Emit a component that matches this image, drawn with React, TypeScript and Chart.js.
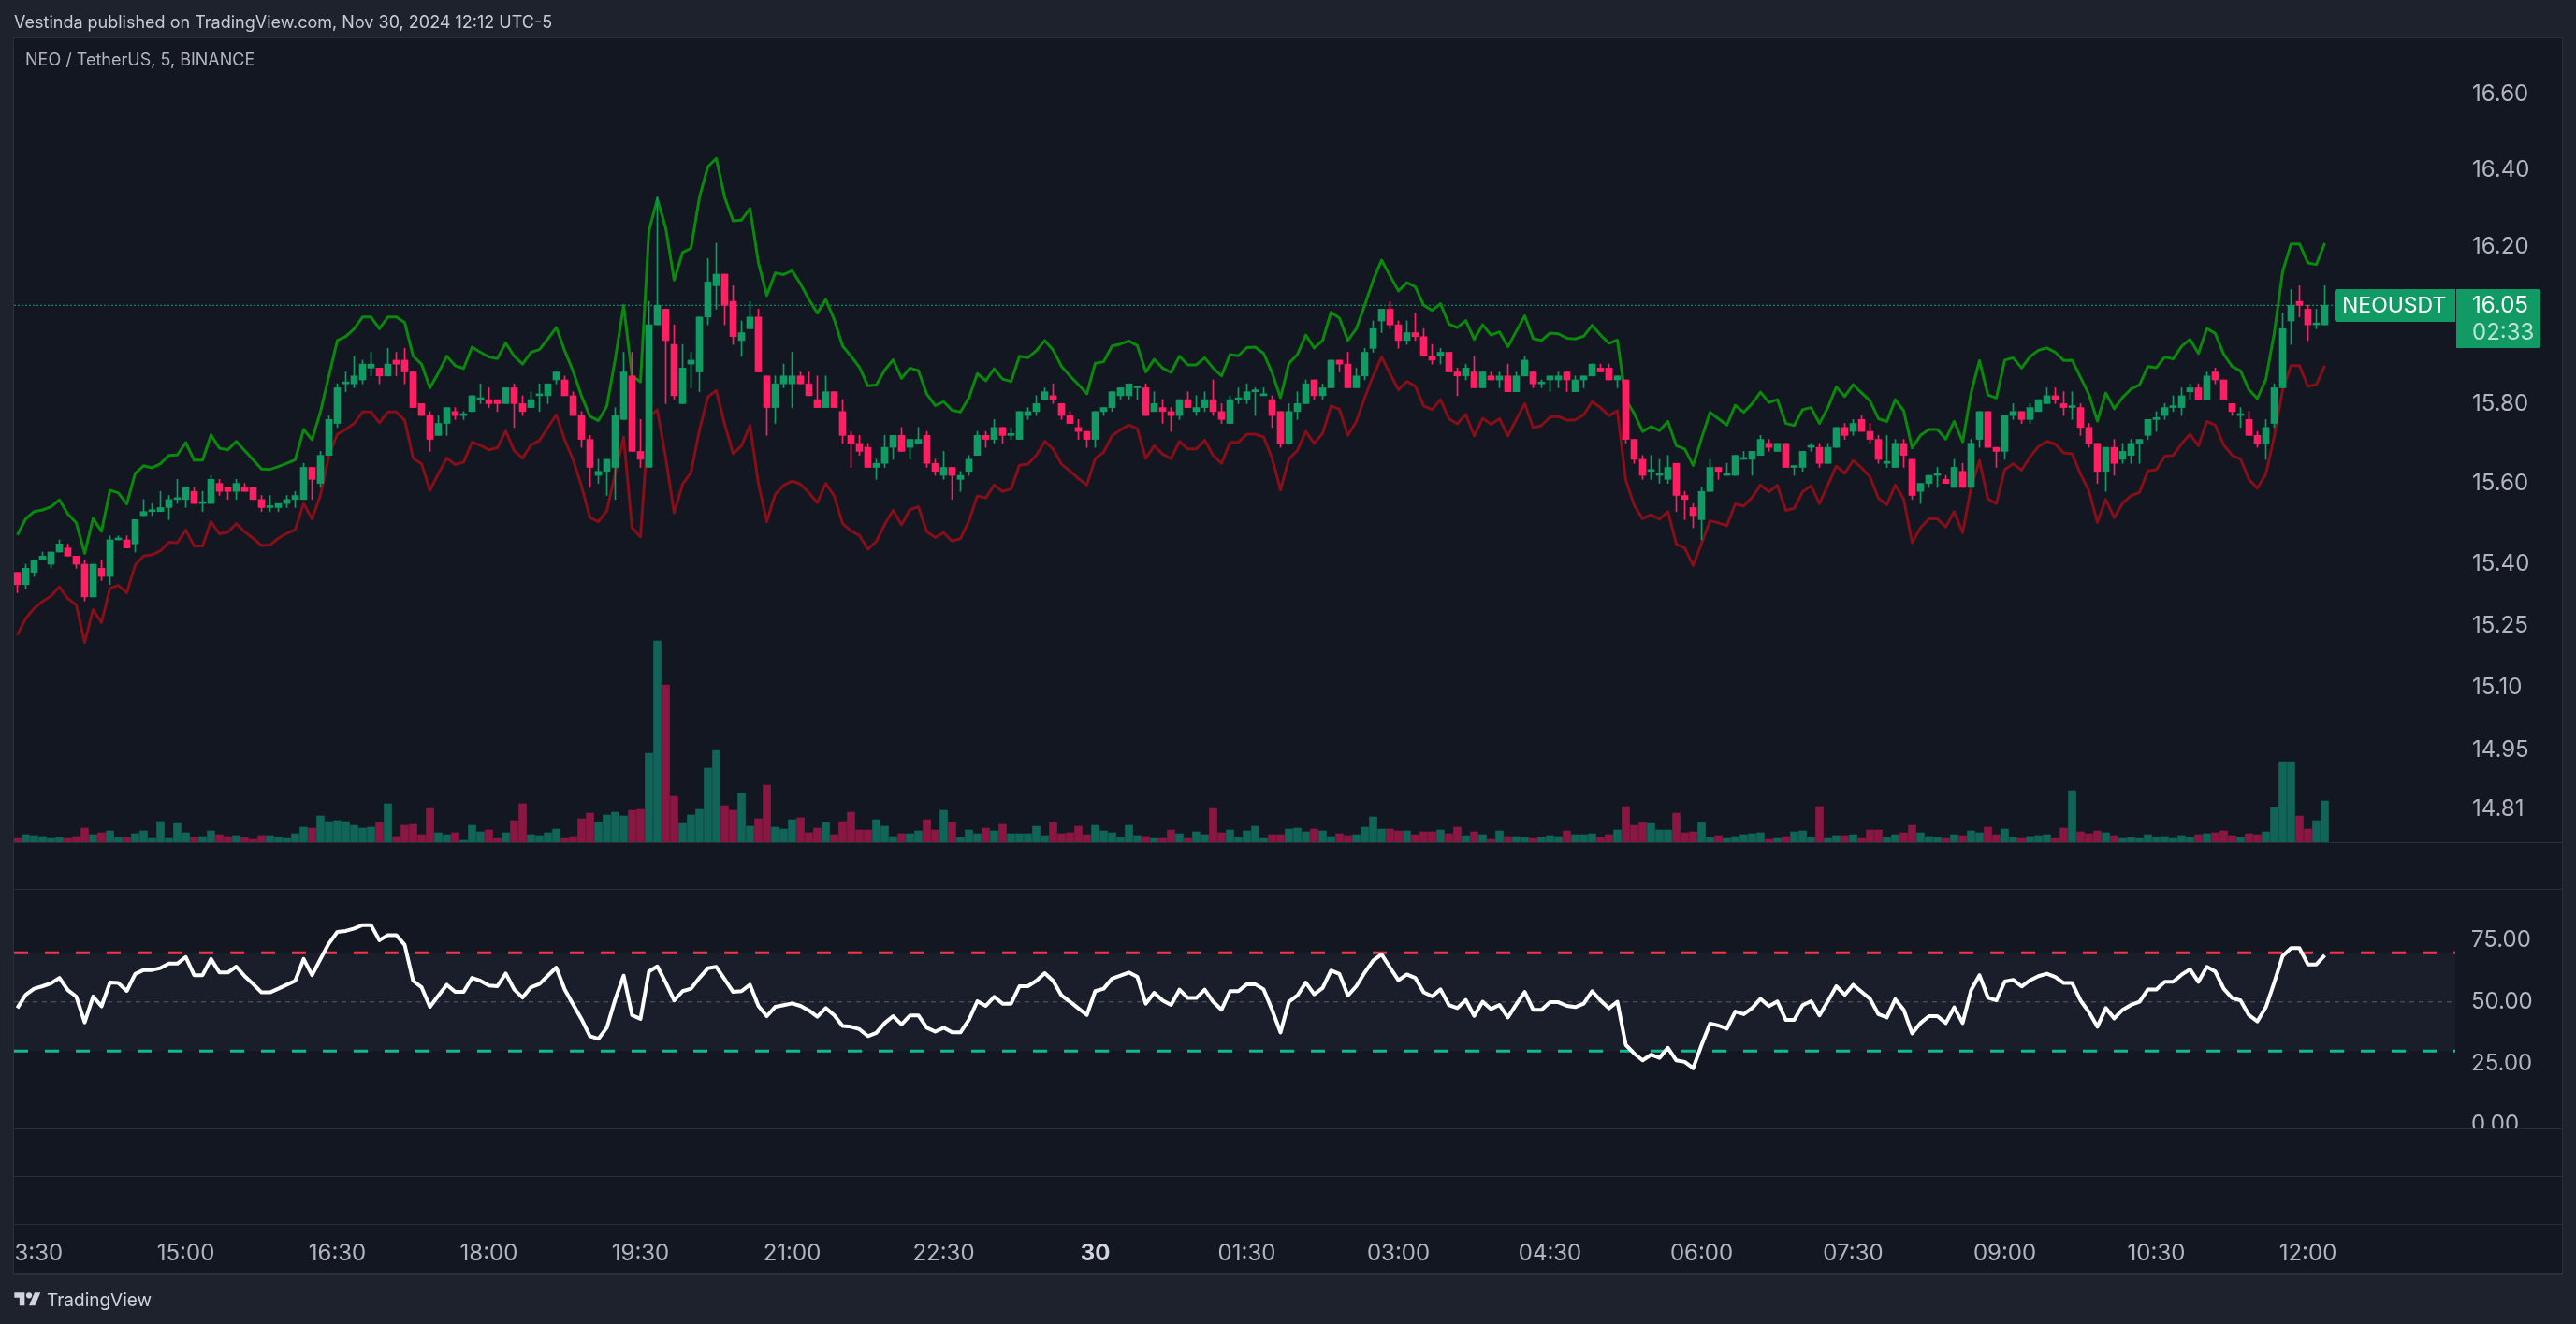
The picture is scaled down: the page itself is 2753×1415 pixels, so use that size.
import { useEffect, useRef } from "react";
import { Chart, registerables } from "chart.js";

Chart.register(...registerables);

// 5 minute candles, Nov 29 13:20 to Nov 30 12:10
const opens = [
  15.38,15.35,15.38,15.41,15.40,15.43,15.44,15.42,15.40,15.32,
  15.39,15.37,15.46,15.46,15.45,15.52,15.53,15.53,15.54,15.56,
  15.56,15.58,15.55,15.55,15.60,15.59,15.58,15.59,15.59,15.56,
  15.54,15.54,15.55,15.56,15.56,15.64,15.60,15.67,15.75,15.85,
  15.85,15.86,15.89,15.89,15.87,15.91,15.91,15.88,15.80,15.77,
  15.72,15.75,15.78,15.77,15.78,15.81,15.81,15.81,15.80,15.84,
  15.80,15.79,15.82,15.82,15.86,15.86,15.82,15.77,15.71,15.62,
  15.63,15.64,15.76,15.87,15.68,15.64,16.00,16.04,15.95,15.80,
  15.90,15.88,16.02,16.10,16.13,16.06,15.96,15.99,16.02,15.87,
  15.79,15.85,15.85,15.87,15.85,15.81,15.79,15.83,15.78,15.72,
  15.70,15.69,15.64,15.65,15.69,15.72,15.69,15.70,15.72,15.65,
  15.62,15.64,15.61,15.63,15.67,15.72,15.71,15.74,15.72,15.71,
  15.77,15.78,15.81,15.82,15.80,15.77,15.74,15.73,15.71,15.78,
  15.79,15.82,15.82,15.84,15.84,15.78,15.79,15.78,15.77,15.81,
  15.78,15.79,15.81,15.78,15.75,15.81,15.81,15.83,15.82,15.81,
  15.78,15.70,15.78,15.80,15.86,15.82,15.84,15.91,15.90,15.84,
  15.87,15.94,16.01,16.04,16.00,15.96,15.98,15.97,15.92,15.92,
  15.93,15.88,15.87,15.88,15.84,15.87,15.86,15.87,15.83,15.87,
  15.88,15.85,15.86,15.86,15.88,15.83,15.86,15.87,15.89,15.89,
  15.86,15.86,15.71,15.66,15.63,15.62,15.61,15.65,15.57,15.54,
  15.51,15.58,15.64,15.62,15.62,15.66,15.66,15.67,15.70,15.68,
  15.70,15.64,15.64,15.69,15.69,15.65,15.69,15.74,15.73,15.76,
  15.73,15.71,15.65,15.64,15.70,15.66,15.58,15.60,15.62,15.61,
  15.59,15.63,15.59,15.71,15.78,15.69,15.68,15.77,15.78,15.76,
  15.78,15.80,15.82,15.80,15.79,15.79,15.74,15.70,15.63,15.69,
  15.66,15.67,15.70,15.72,15.76,15.77,15.79,15.79,15.83,15.84,
  15.81,15.88,15.86,15.80,15.77,15.76,15.72,15.70,15.75,15.84,
  16.01,16.06,16.04,16.00,16.00,
];

const closes = [
  15.35,15.39,15.41,15.42,15.43,15.45,15.42,15.40,15.32,15.40,
  15.37,15.46,15.46,15.44,15.51,15.53,15.53,15.54,15.56,15.56,
  15.59,15.55,15.55,15.61,15.58,15.58,15.60,15.58,15.56,15.54,
  15.54,15.55,15.56,15.57,15.64,15.61,15.67,15.76,15.84,15.85,
  15.87,15.90,15.90,15.87,15.90,15.90,15.88,15.79,15.77,15.71,
  15.75,15.79,15.77,15.77,15.82,15.81,15.80,15.80,15.84,15.80,
  15.78,15.81,15.82,15.85,15.88,15.82,15.77,15.71,15.64,15.63,
  15.66,15.77,15.88,15.68,15.66,16.00,16.05,15.96,15.82,15.89,
  15.91,16.02,16.11,16.13,16.05,15.97,15.98,16.02,15.88,15.79,
  15.85,15.87,15.87,15.85,15.82,15.79,15.83,15.79,15.72,15.70,
  15.68,15.64,15.65,15.69,15.72,15.68,15.71,15.71,15.65,15.63,
  15.64,15.62,15.62,15.66,15.72,15.71,15.74,15.72,15.72,15.78,
  15.78,15.80,15.83,15.81,15.77,15.75,15.73,15.71,15.78,15.79,
  15.83,15.84,15.85,15.84,15.77,15.80,15.78,15.77,15.81,15.79,
  15.79,15.81,15.78,15.76,15.81,15.81,15.83,15.83,15.82,15.77,
  15.70,15.78,15.80,15.85,15.82,15.84,15.91,15.90,15.84,15.87,
  15.93,15.99,16.04,16.00,15.96,15.98,15.97,15.92,15.91,15.93,
  15.88,15.87,15.89,15.84,15.88,15.86,15.87,15.83,15.87,15.91,
  15.85,15.85,15.87,15.87,15.86,15.86,15.87,15.90,15.88,15.86,
  15.87,15.71,15.66,15.62,15.63,15.62,15.64,15.57,15.56,15.52,
  15.58,15.64,15.63,15.62,15.67,15.66,15.68,15.71,15.69,15.70,
  15.64,15.64,15.68,15.69,15.65,15.69,15.74,15.72,15.75,15.73,
  15.71,15.66,15.65,15.70,15.67,15.57,15.60,15.62,15.62,15.60,
  15.64,15.59,15.70,15.78,15.69,15.68,15.77,15.78,15.76,15.79,
  15.81,15.82,15.81,15.79,15.79,15.74,15.70,15.63,15.69,15.65,
  15.68,15.70,15.71,15.76,15.76,15.79,15.79,15.82,15.84,15.81,
  15.87,15.86,15.81,15.78,15.77,15.72,15.70,15.74,15.84,15.99,
  16.05,16.05,16.00,16.00,16.05,
];

const highs = [
  15.38,15.40,15.41,15.43,15.43,15.46,15.45,15.42,15.41,15.40,
  15.41,15.47,15.47,15.47,15.51,15.56,15.55,15.58,15.57,15.61,
  15.59,15.59,15.58,15.62,15.61,15.59,15.61,15.60,15.59,15.57,
  15.57,15.55,15.57,15.58,15.65,15.64,15.68,15.77,15.85,15.88,
  15.92,15.91,15.93,15.89,15.94,15.93,15.94,15.88,15.80,15.78,
  15.77,15.79,15.79,15.78,15.82,15.85,15.84,15.81,15.84,15.85,
  15.82,15.83,15.85,15.85,15.88,15.87,15.83,15.78,15.72,15.66,
  15.66,15.79,15.93,15.93,15.76,16.06,16.33,16.04,16.00,15.95,
  15.93,16.02,16.17,16.21,16.13,16.10,16.01,16.06,16.04,15.87,
  15.87,15.90,15.93,15.88,15.88,15.87,15.87,15.83,15.81,15.73,
  15.72,15.70,15.66,15.72,15.72,15.74,15.71,15.74,15.73,15.66,
  15.68,15.64,15.63,15.67,15.73,15.73,15.76,15.74,15.74,15.78,
  15.79,15.82,15.84,15.85,15.80,15.78,15.76,15.73,15.78,15.79,
  15.83,15.84,15.85,15.84,15.85,15.83,15.81,15.79,15.81,15.83,
  15.82,15.83,15.86,15.80,15.82,15.84,15.85,15.84,15.84,15.82,
  15.78,15.80,15.83,15.86,15.86,15.85,15.91,15.91,15.93,15.89,
  15.94,16.01,16.04,16.06,16.01,16.01,16.03,15.99,15.95,15.94,
  15.93,15.89,15.90,15.92,15.88,15.88,15.88,15.90,15.88,15.92,
  15.88,15.86,15.87,15.88,15.88,15.87,15.87,15.90,15.90,15.90,
  15.87,15.86,15.71,15.67,15.67,15.66,15.67,15.65,15.58,15.55,
  15.59,15.66,15.64,15.65,15.67,15.68,15.68,15.72,15.71,15.70,
  15.70,15.64,15.68,15.70,15.70,15.70,15.74,15.75,15.76,15.77,
  15.75,15.72,15.72,15.71,15.71,15.66,15.60,15.62,15.64,15.62,
  15.66,15.65,15.71,15.78,15.78,15.69,15.77,15.80,15.78,15.80,
  15.81,15.84,15.84,15.83,15.83,15.80,15.75,15.70,15.69,15.71,
  15.70,15.71,15.71,15.76,15.78,15.80,15.82,15.84,15.85,15.85,
  15.88,15.89,15.86,15.80,15.79,15.78,15.73,15.76,15.85,16.03,
  16.09,16.10,16.05,16.04,16.10,
];

const lows = [
  15.33,15.34,15.37,15.41,15.39,15.43,15.42,15.39,15.31,15.32,
  15.36,15.35,15.46,15.44,15.43,15.52,15.52,15.53,15.51,15.55,
  15.54,15.55,15.53,15.55,15.57,15.56,15.56,15.58,15.56,15.53,
  15.53,15.53,15.54,15.54,15.56,15.56,15.59,15.67,15.74,15.83,
  15.84,15.85,15.87,15.85,15.87,15.87,15.85,15.79,15.77,15.68,
  15.72,15.72,15.76,15.76,15.78,15.80,15.79,15.78,15.80,15.74,
  15.77,15.79,15.78,15.80,15.85,15.82,15.77,15.69,15.59,15.60,
  15.57,15.56,15.76,15.68,15.64,15.64,16.00,15.80,15.81,15.80,
  15.84,15.83,16.00,16.04,16.00,15.95,15.92,15.99,15.88,15.72,
  15.75,15.84,15.79,15.85,15.82,15.79,15.79,15.79,15.70,15.64,
  15.67,15.64,15.61,15.64,15.66,15.68,15.66,15.70,15.64,15.62,
  15.61,15.56,15.58,15.62,15.67,15.69,15.70,15.70,15.71,15.71,
  15.76,15.77,15.81,15.80,15.76,15.75,15.71,15.69,15.69,15.77,
  15.78,15.81,15.81,15.81,15.77,15.78,15.75,15.73,15.76,15.79,
  15.77,15.78,15.77,15.75,15.75,15.80,15.80,15.77,15.82,15.74,
  15.69,15.70,15.76,15.80,15.81,15.81,15.84,15.88,15.84,15.84,
  15.86,15.93,15.98,15.99,15.94,15.95,15.96,15.92,15.90,15.90,
  15.88,15.82,15.86,15.84,15.84,15.86,15.84,15.83,15.83,15.87,
  15.84,15.84,15.83,15.84,15.83,15.83,15.84,15.87,15.88,15.86,
  15.84,15.70,15.65,15.61,15.61,15.60,15.60,15.53,15.51,15.49,
  15.46,15.58,15.61,15.62,15.62,15.66,15.62,15.67,15.68,15.68,
  15.64,15.62,15.63,15.68,15.64,15.65,15.69,15.71,15.72,15.73,
  15.70,15.65,15.64,15.64,15.64,15.56,15.55,15.59,15.59,15.60,
  15.59,15.59,15.59,15.69,15.69,15.64,15.66,15.76,15.75,15.75,
  15.78,15.80,15.80,15.77,15.76,15.72,15.69,15.60,15.58,15.62,
  15.65,15.65,15.65,15.71,15.73,15.76,15.78,15.77,15.81,15.81,
  15.81,15.85,15.81,15.77,15.74,15.72,15.69,15.66,15.74,15.84,
  15.95,16.02,15.96,15.99,16.00,
];

const volumes = [
  12,24,21,18,12,15,12,18,45,24,
  30,36,15,15,27,36,12,66,12,60,
  30,15,18,36,24,18,21,15,9,21,
  21,15,12,27,48,45,84,66,69,66,
  54,45,48,63,123,18,54,57,24,108,
  30,24,30,6,54,33,39,12,30,69,
  123,24,21,30,42,12,18,75,93,63,
  87,96,84,102,105,285,645,504,147,60,
  87,105,237,294,117,102,156,51,75,183,
  48,42,72,78,30,45,63,24,66,96,
  39,39,72,51,18,27,27,36,72,39,
  102,63,15,39,27,45,36,57,27,27,
  27,51,21,63,27,30,51,24,54,36,
  30,15,54,21,18,12,12,39,27,12,
  33,24,108,30,39,15,36,51,12,24,
  24,42,45,33,42,36,18,27,21,24,
  48,81,42,42,36,36,24,33,33,39,
  27,48,21,33,24,9,36,18,18,15,
  12,15,21,18,36,24,24,27,15,24,
  39,114,54,63,60,39,39,93,30,33,
  63,15,21,12,18,24,27,30,9,12,
  18,33,36,15,114,12,21,21,24,12,
  39,39,15,24,30,54,30,18,15,12,
  24,21,36,30,48,24,42,15,12,18,
  21,24,12,45,165,33,27,36,30,21,
  12,15,12,24,15,18,12,21,15,24,
  27,30,36,21,15,27,24,33,110,258,
  258,84,42,69,132,
];

const upperBand = [
  15.472,15.512,15.530,15.534,15.542,15.559,15.524,15.502,15.427,15.513,
  15.481,15.583,15.576,15.549,15.625,15.644,15.639,15.649,15.670,15.671,
  15.702,15.658,15.658,15.721,15.688,15.684,15.705,15.682,15.659,15.636,
  15.635,15.642,15.650,15.659,15.735,15.709,15.78,15.87,15.96,15.97,
  15.99,16.02,16.02,15.99,16.02,16.02,16.006,15.92,15.90,15.84,
  15.878,15.92,15.896,15.889,15.943,15.93,15.918,15.914,15.954,15.92,
  15.90,15.93,15.937,15.964,15.993,15.934,15.882,15.819,15.768,15.757,
  15.793,15.913,16.05,15.87,15.855,16.242,16.325,16.249,16.115,16.186,
  16.197,16.329,16.409,16.431,16.329,16.268,16.27,16.30,16.16,16.075,
  16.133,16.129,16.139,16.105,16.065,16.03,16.065,16.014,15.946,15.92,
  15.892,15.845,15.847,15.885,15.911,15.864,15.89,15.883,15.824,15.795,
  15.805,15.783,15.779,15.815,15.876,15.858,15.888,15.862,15.856,15.92,
  15.916,15.934,15.96,15.936,15.894,15.87,15.848,15.825,15.902,15.906,
  15.946,15.951,15.959,15.947,15.88,15.912,15.89,15.879,15.92,15.898,
  15.898,15.916,15.89,15.87,15.924,15.921,15.942,15.943,15.927,15.878,
  15.815,15.902,15.924,15.974,15.941,15.96,16.032,16.017,15.96,15.99,
  16.05,16.114,16.166,16.126,16.087,16.108,16.098,16.05,16.037,16.054,
  16.002,15.993,16.011,15.963,16.0,15.974,15.982,15.944,15.984,16.023,
  15.965,15.96,15.979,15.977,15.966,15.964,15.971,15.999,15.974,15.953,
  15.961,15.81,15.775,15.73,15.742,15.732,15.755,15.694,15.686,15.645,
  15.713,15.778,15.762,15.746,15.796,15.778,15.80,15.829,15.803,15.81,
  15.75,15.745,15.785,15.79,15.75,15.79,15.842,15.818,15.848,15.827,
  15.807,15.762,15.755,15.81,15.782,15.689,15.72,15.735,15.735,15.711,
  15.755,15.704,15.827,15.909,15.822,15.814,15.91,15.916,15.89,15.919,
  15.935,15.941,15.93,15.909,15.91,15.866,15.823,15.756,15.827,15.787,
  15.816,15.837,15.847,15.894,15.891,15.918,15.913,15.945,15.963,15.927,
  15.991,15.978,15.925,15.894,15.883,15.835,15.813,15.861,15.978,16.137,
  16.208,16.208,16.159,16.155,16.21,
];

const lowerBand = [
  15.227,15.267,15.292,15.309,15.322,15.344,15.316,15.30,15.209,15.289,
  15.257,15.341,15.348,15.33,15.398,15.42,15.423,15.433,15.454,15.453,
  15.484,15.445,15.445,15.505,15.475,15.479,15.50,15.48,15.464,15.446,
  15.447,15.464,15.476,15.485,15.55,15.512,15.571,15.67,15.723,15.735,
  15.75,15.779,15.779,15.752,15.779,15.779,15.758,15.663,15.649,15.583,
  15.624,15.663,15.647,15.653,15.703,15.695,15.684,15.689,15.731,15.682,
  15.663,15.696,15.707,15.74,15.772,15.709,15.659,15.593,15.515,15.505,
  15.532,15.624,15.716,15.49,15.467,15.768,15.784,15.663,15.527,15.598,
  15.627,15.733,15.817,15.833,15.748,15.674,15.694,15.745,15.60,15.505,
  15.573,15.595,15.606,15.598,15.577,15.552,15.60,15.569,15.50,15.482,
  15.471,15.437,15.456,15.498,15.533,15.497,15.535,15.542,15.48,15.466,
  15.478,15.457,15.463,15.507,15.569,15.564,15.596,15.58,15.586,15.645,
  15.648,15.67,15.705,15.686,15.648,15.631,15.612,15.596,15.662,15.678,
  15.719,15.734,15.746,15.737,15.662,15.694,15.673,15.662,15.705,15.686,
  15.686,15.708,15.67,15.65,15.702,15.703,15.723,15.723,15.716,15.663,
  15.584,15.661,15.682,15.73,15.70,15.725,15.794,15.786,15.72,15.755,
  15.815,15.87,15.918,15.876,15.835,15.856,15.844,15.794,15.785,15.81,
  15.762,15.749,15.773,15.719,15.763,15.748,15.762,15.719,15.76,15.80,
  15.739,15.745,15.766,15.768,15.758,15.759,15.772,15.805,15.79,15.77,
  15.782,15.608,15.546,15.512,15.522,15.511,15.53,15.45,15.44,15.397,
  15.452,15.507,15.502,15.495,15.549,15.544,15.565,15.596,15.579,15.595,
  15.533,15.538,15.579,15.594,15.55,15.596,15.643,15.625,15.657,15.639,
  15.616,15.563,15.547,15.596,15.561,15.453,15.49,15.512,15.512,15.492,
  15.53,15.478,15.59,15.657,15.561,15.55,15.634,15.649,15.633,15.666,
  15.692,15.705,15.698,15.676,15.674,15.623,15.582,15.503,15.56,15.515,
  15.551,15.569,15.578,15.631,15.634,15.668,15.67,15.699,15.723,15.694,
  15.755,15.746,15.696,15.67,15.661,15.61,15.588,15.623,15.717,15.835,
  15.896,15.896,15.844,15.848,15.896,
];

const rsiValues = [
  47.5,52.9,55.4,56.4,57.6,59.8,54.8,52.2,41.7,52.2,
  48.2,57.9,57.7,54.5,61.4,63,63,63.8,65.6,65.6,
  68.3,60.9,60.9,67.5,62,62,64.4,60.5,57.3,53.9,
  53.9,55.4,57,58.6,67.5,60.9,67.5,73.8,78.5,78.9,
  79.9,81.3,81.3,75.1,77.2,77.2,73.2,58.6,56,48,
  52.6,57,54.1,54.1,59.8,58.6,56.7,56.4,61.6,55.1,
  51.8,56,57.3,60.7,64,55.1,49,43,36.1,35,
  39.5,51,60.7,44.6,43.1,62.4,64.5,57.9,50.6,54.4,
  55.4,59.8,63.7,64.3,59.2,54.1,54.4,57,48.4,44.2,
  48,48.7,49.4,48.4,46.5,44,47.5,44.6,40.2,39.9,
  38.9,36.1,37.4,41.4,44.2,40.8,44.5,44.5,39.5,37.9,
  39.5,37.6,37.6,42.7,50.3,48.4,52.1,49.3,49.3,56.4,
  56.4,58.6,61.7,58.6,52.6,50.1,47.4,44.7,54.4,55.4,
  59.5,60.7,62,60.2,49.3,53.7,50.6,48.8,55,51.6,
  51.6,55,50.1,46.8,54.4,54.4,57.2,57.2,55.1,46.8,
  37.6,50.1,52.6,57.9,53.1,55.7,62.8,61.4,52.6,56.4,
  62,66.8,69.4,64,58.8,61.2,59.8,53.9,52.3,55.1,
  48.7,47.5,50.8,44.3,50.1,47.1,48.8,43.7,49,54.1,
  46.8,46.8,49.9,49.9,48.4,47.9,49.3,54.4,50.6,47.4,
  50.1,32.5,29,26.2,28.5,27.2,31.3,26.2,25.6,23,
  32.5,41.2,40.4,39.1,46.1,45,47.5,51.3,48.3,50.2,
  42.7,42.7,48.7,50.3,44.5,50.3,56.4,52.9,57,54.1,
  51.3,45,43.7,51.1,46.8,37.2,41.4,44.2,44.2,41.4,
  47.8,41.4,54.8,60.9,51.8,50.6,58.3,59,56.3,58.8,
  60.5,61.5,60.2,57.7,57.7,50.6,45.9,39.9,47.5,43.3,
  46.8,48.8,50.1,55.1,55.1,58.2,58.2,61.1,63.3,58.2,
  64.3,62.4,55.4,51.6,50.6,44.6,42.1,47.8,57.9,68.7,
  71.9,71.9,65.3,65.3,69,
];

const priceTicks = [16.6, 16.4, 16.2, 15.8, 15.6, 15.4, 15.25, 15.1, 14.95, 14.81];
const rsiTicks = [75, 50, 25, 0];
const timeTickIndexes = [2, 20, 38, 56, 74, 92, 110, 128, 146, 164, 182, 200, 218, 236, 254, 272];
const timeTickLabels = ["13:30", "15:00", "16:30", "18:00", "19:30", "21:00", "22:30", "30", "01:30", "03:00", "04:30", "06:00", "07:30", "09:00", "10:30", "12:00"];
const dayTickIndex = 128;
const lastPrice = 16.05;
const rsiUpperLine = 70;
const rsiMiddleLine = 50;
const rsiLowerLine = 30;

const font = "Inter";
const outerBg = "#1e222d";
const paneBg = "#131722";
const lineColor = "#2a2e39";
const textColor = "#b2b5be";

// plot rectangle on the page, pixels
const plotLeft = 15;
const plotRight = 2624;
const plotTop = 41;
const plotBottom = 1308;
const panelRight = 2738;
const panelBottom = 1361;

// x scale limits so that one candle is 9px and candle 0 sits at 18.5px
const xMin = (plotLeft - 18.5) / 9;
const xMax = (plotRight - 18.5) / 9;

// all y scales share the plot rectangle, their limits put each pane at its place
const priceAt = (y: number) => 16.2 * Math.exp(-(y - 264) / 6694);
const rsiAt = (y: number) => 50 - (y - 1070.8) / 2.625;
const volumeAt = (y: number) => (900 - y) * 3;

const greenBody = "#119a63";
const redBody = "#ff1f62";
const greenVolume = "#106458";
const redVolume = "#8a1742";
const candleUp = opens.map((o, i) => closes[i] >= o);

const paneFrame = {
  id: "paneFrame",
  afterLayout(chart: Chart) {
    // the rsi axis takes no room in the layout, but its labels are clipped to its box
    chart.scales.rsi.right = panelRight;
  },
  beforeDraw(chart: Chart) {
    const { ctx, width, height } = chart;
    ctx.save();
    ctx.fillStyle = outerBg;
    ctx.fillRect(0, 0, width, height);
    ctx.fillStyle = paneBg;
    ctx.fillRect(plotLeft, plotTop, panelRight - plotLeft, panelBottom - plotTop);
    ctx.restore();
  },
  afterDraw(chart: Chart) {
    const { ctx } = chart;
    ctx.save();
    // the first time label and the 0.00 label are cut by the pane edges
    ctx.fillStyle = outerBg;
    ctx.fillRect(0, plotBottom, plotLeft, panelBottom - plotBottom + 2);
    ctx.fillStyle = paneBg;
    ctx.fillRect(plotRight, 1207, panelRight - plotRight, 50);
    ctx.fillStyle = lineColor;
    for (const y of [900, 950, 1206, 1257, 1308]) {
      ctx.fillRect(plotLeft, y, panelRight - plotLeft, 1);
    }
    ctx.fillRect(plotLeft - 1, plotTop - 1, panelRight - plotLeft + 2, 1);
    ctx.fillRect(plotLeft - 1, panelBottom, panelRight - plotLeft + 2, 2);
    ctx.fillRect(plotLeft - 1, plotTop - 1, 1, panelBottom - plotTop + 2);
    ctx.fillRect(panelRight, plotTop - 1, 1, panelBottom - plotTop + 2);
    ctx.restore();
  },
};

const labels = opens.map((_, i) => i);

const lineStyle = { pointRadius: 0, pointHoverRadius: 0, tension: 0, borderJoinStyle: "round" as const };
const barStyle = { grouped: false, barPercentage: 1, categoryPercentage: 1, borderWidth: 0 };

function TradingViewChart() {
  const chartRef = useRef<HTMLCanvasElement>(null);
  const chartInstance = useRef<Chart | null>(null);

  useEffect(() => {
    if (!chartRef.current) return;
    const ctx = chartRef.current.getContext("2d");
    if (!ctx) return;

    chartInstance.current = new Chart(ctx, {
      type: "bar",
      plugins: [paneFrame],
      data: {
        labels,
        datasets: [
          {
            ...barStyle,
            label: "Candle body",
            data: opens.map((o, i) => [o, closes[i]]),
            yAxisID: "price",
            backgroundColor: candleUp.map((up) => (up ? greenBody : redBody)),
            maxBarThickness: 7,
            minBarLength: 2,
            order: 1,
          },
          {
            ...barStyle,
            label: "Candle wick",
            data: lows.map((l, i) => [l, highs[i]]),
            yAxisID: "price",
            backgroundColor: candleUp.map((up) => (up ? greenBody : redBody)),
            maxBarThickness: 1,
            order: 2,
          },
          {
            ...lineStyle,
            type: "line",
            label: "RSI",
            data: rsiValues,
            yAxisID: "rsi",
            borderColor: "#ffffff",
            borderWidth: 4,
            order: 3,
          },
          {
            ...lineStyle,
            type: "line",
            label: "Upper band",
            data: upperBand,
            yAxisID: "price",
            borderColor: "#0a8a0c",
            borderWidth: 3,
            order: 4,
          },
          {
            ...lineStyle,
            type: "line",
            label: "Lower band",
            data: lowerBand,
            yAxisID: "price",
            borderColor: "#880e18",
            borderWidth: 3,
            order: 4,
          },
          {
            ...lineStyle,
            type: "line",
            label: "Last price",
            data: [{ x: xMin, y: lastPrice }, { x: 275, y: lastPrice }],
            yAxisID: "price",
            borderColor: "#0fa070",
            borderWidth: 1,
            borderDash: [2, 2],
            order: 5,
          },
          {
            ...barStyle,
            label: "Volume",
            data: volumes,
            yAxisID: "volume",
            backgroundColor: candleUp.map((up) => (up ? greenVolume : redVolume)),
            maxBarThickness: 8,
            order: 6,
          },
          {
            ...lineStyle,
            type: "line",
            label: "RSI upper",
            data: [{ x: xMin, y: rsiUpperLine }, { x: xMax, y: rsiUpperLine }],
            yAxisID: "rsi",
            borderColor: "#f23645",
            borderWidth: 3,
            borderDash: [15, 18],
            fill: { target: { value: rsiLowerLine }, above: "#1a1e2a", below: "#1a1e2a" },
            order: 7,
          },
          {
            ...lineStyle,
            type: "line",
            label: "RSI lower",
            data: [{ x: xMin, y: rsiLowerLine }, { x: xMax, y: rsiLowerLine }],
            yAxisID: "rsi",
            borderColor: "#0fbc92",
            borderWidth: 3,
            borderDash: [15, 18],
            order: 6,
          },
          {
            ...lineStyle,
            type: "line",
            label: "RSI middle",
            data: [{ x: xMin, y: rsiMiddleLine }, { x: xMax, y: rsiMiddleLine }],
            yAxisID: "rsi",
            borderColor: "#5a5d68",
            borderWidth: 1,
            borderDash: [5, 5],
            order: 6,
          },
        ] as any,
      },
      options: {
        responsive: false,
        animation: false,
        devicePixelRatio: 1,
        events: [],
        layout: {
          autoPadding: false,
          padding: { left: plotLeft, top: plotTop, right: 2753 - panelRight, bottom: 1415 - panelBottom },
        },
        plugins: {
          legend: { display: false },
          title: { display: false },
          tooltip: { enabled: false },
        },
        scales: {
          x: {
            type: "linear",
            offset: false,
            min: xMin,
            max: xMax,
            grid: { display: false },
            border: { display: false },
            afterFit: (scale: any) => {
              scale.height = panelBottom - plotBottom;
              // the clipped first label must not push the plot to the right
              scale.paddingLeft = 0;
              scale.paddingRight = 0;
            },
            afterBuildTicks: (scale: any) => {
              scale.ticks = timeTickIndexes.map((value) => ({ value }));
            },
            ticks: {
              autoSkip: false,
              maxRotation: 0,
              padding: 9,
              color: (c: any) => (c.tick?.value === dayTickIndex ? "#d1d4dc" : textColor),
              font: (c: any) => ({
                family: font,
                size: 24,
                weight: c.tick?.value === dayTickIndex ? "bold" : "normal",
              }),
              callback: (value: any) => timeTickLabels[timeTickIndexes.indexOf(value)],
            },
          },
          price: {
            type: "logarithmic",
            position: "right",
            min: priceAt(plotBottom),
            max: priceAt(plotTop),
            grid: { display: false, drawTicks: false },
            border: { display: false },
            afterFit: (scale: any) => {
              scale.width = panelRight - plotRight;
            },
            afterBuildTicks: (scale: any) => {
              scale.ticks = priceTicks.map((value) => ({ value }));
            },
            ticks: {
              autoSkip: false,
              padding: 18,
              color: textColor,
              font: { family: font, size: 24 },
              callback: (value: any) => Number(value).toFixed(2),
            },
          },
          rsi: {
            type: "linear",
            position: "right",
            weight: -1,
            min: rsiAt(plotBottom),
            max: rsiAt(plotTop),
            grid: { display: false, drawTicks: false },
            border: { display: false },
            afterFit: (scale: any) => {
              scale.width = 0;
            },
            afterBuildTicks: (scale: any) => {
              scale.ticks = rsiTicks.map((value) => ({ value }));
            },
            ticks: {
              autoSkip: false,
              padding: 17,
              color: textColor,
              font: { family: font, size: 24 },
              callback: (value: any) => Number(value).toFixed(2),
            },
          },
          volume: {
            type: "linear",
            display: false,
            min: volumeAt(plotBottom),
            max: volumeAt(plotTop),
          },
        },
      } as any,
    });

    return () => {
      if (chartInstance.current) {
        chartInstance.current.destroy();
      }
    };
  }, []);

  return <canvas ref={chartRef} width={2753} height={1415} style={{ display: "block" }} />;
}

const overlayText = (left: number, top: number, color: string, size: number): React.CSSProperties => ({
  position: "absolute",
  left,
  top,
  color,
  fontSize: size,
  lineHeight: "24px",
  fontFamily: font,
  whiteSpace: "nowrap",
});

export default function App() {
  return (
    <div style={{ position: "absolute", left: 0, top: 0, width: 2753, height: 1415, overflow: "hidden", background: outerBg }}>
      <TradingViewChart />
      <div style={overlayText(15, 12, "#c8cbd3", 18)}>Vestinda published on TradingView.com, Nov 30, 2024 12:12 UTC-5</div>
      <div style={overlayText(27, 52, textColor, 18)}>NEO / TetherUS, 5, BINANCE</div>
      <div style={{ position: "absolute", left: 2495, top: 309, width: 129, height: 35, background: greenBody, borderRadius: "3px 0 0 3px" }} />
      <div style={{ position: "absolute", left: 2625, top: 309, width: 90, height: 63, background: greenBody, borderRadius: "0 3px 3px 0" }} />
      <div style={overlayText(2503, 314, "#ffffff", 23)}>NEOUSDT</div>
      <div style={overlayText(2642, 314, "#ffffff", 24)}>16.05</div>
      <div style={overlayText(2642, 343, "rgba(255,255,255,0.72)", 24)}>02:33</div>
      <svg style={{ position: "absolute", left: 15, top: 1378 }} width={29} height={22} viewBox="0 0 36 28" fill="#d1d4dc">
        <path d="M14 22H7V11H0V4h14v18zM28 22h-8l7.5-18h8L28 22z" />
        <circle cx="20" cy="8" r="4" />
      </svg>
      <div style={overlayText(50, 1378, "#d1d4dc", 19)}>TradingView</div>
    </div>
  );
}
